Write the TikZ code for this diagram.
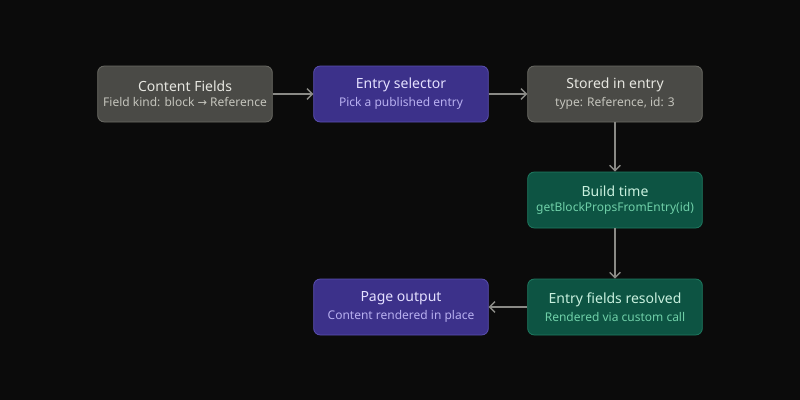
\documentclass[tikz,border=0pt]{standalone}
\usepackage{fontspec}
\setmainfont{Noto Sans}
\newfontfamily\djv{DejaVu Sans}
\usetikzlibrary{arrows.meta}
\definecolor{bg}{HTML}{0B0B0B}
\definecolor{gf}{HTML}{4A4A46}\definecolor{gd}{HTML}{6A6A64}\definecolor{gt}{HTML}{E6E6E0}\definecolor{gs}{HTML}{C4C4BC}
\definecolor{pf}{HTML}{3C318A}\definecolor{pd}{HTML}{5A4FB0}\definecolor{pt}{HTML}{E4E0FF}\definecolor{ps}{HTML}{B8B0F0}
\definecolor{ef}{HTML}{0D5443}\definecolor{ed}{HTML}{1E7A60}\definecolor{et}{HTML}{C8F0DE}\definecolor{es}{HTML}{6FD0A8}
\definecolor{ln}{HTML}{8A8A86}
\begin{document}
\begin{tikzpicture}[x=1pt,y=-1pt,
 box/.style={rounded corners=5pt,minimum width=131pt,minimum height=42pt,line width=0.6pt,inner sep=0pt},
 gray/.style={box,fill=gf,draw=gd},
 purp/.style={box,fill=pf,draw=pd},
 grn/.style={box,fill=ef,draw=ed},
 ar/.style={draw=ln,line width=1pt,-{Straight Barb[length=4pt,width=8pt]}}]
\fill[bg] (0,0) rectangle (600,300);
\useasboundingbox (0,0) rectangle (600,300);
\newcommand{\lbl}[4]{\shortstack{\fontsize{10.5}{13}\selectfont\color{#1}#2\\[1pt]\fontsize{9}{11}\selectfont\color{#3}#4}}
\node[gray] (a) at (138.75,70.5) {\lbl{gt}{Content Fields}{gs}{Field kind: block {\djv\fontsize{8.5}{11}\selectfont →} Reference}};
\node[purp] (b) at (300.75,70.5) {\lbl{pt}{Entry selector}{ps}{Pick a published entry}};
\node[gray] (c) at (461.25,70.5) {\lbl{gt}{Stored in entry}{gs}{type: Reference, id: 3}};
\node[grn] (d) at (461.25,150) {\lbl{et}{Build time}{es}{getBlockPropsFromEntry(id)}};
\node[grn] (e) at (461.25,230.25) {\lbl{et}{Entry fields resolved}{es}{Rendered via custom call}};
\node[purp] (f) at (300.75,230.25) {\lbl{pt}{Page output}{ps}{Content rendered in place}};
\draw[ar] (a) -- (b);
\draw[ar] (b) -- (c);
\draw[ar] (c) -- (d);
\draw[ar] (d) -- (e);
\draw[ar] (e) -- (f);
\end{tikzpicture}
\end{document}
